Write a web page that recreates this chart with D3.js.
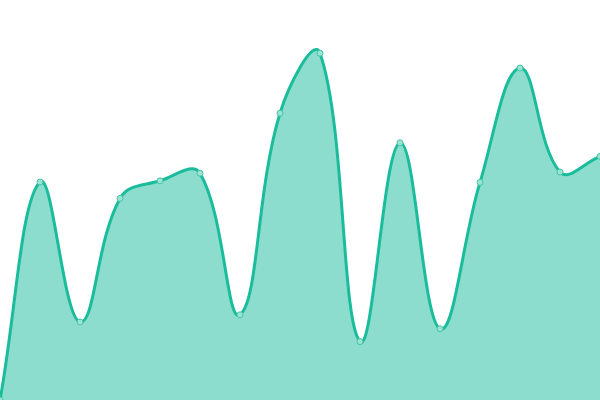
<!DOCTYPE html>
<html>
<head>
<meta charset="utf-8">
<script src="https://cdn.jsdelivr.net/npm/d3@7"></script>
<style>
  html, body { margin: 0; padding: 0; background: #fff; }
  svg { display: block; }
</style>
</head>
<body>
<div id="chart"></div>
<script>
var width = 600;
var height = 400;

// data (0..100 scale)
var labels = ["1", "2", "3", "4", "5", "6", "7", "8", "9", "10", "11", "12", "13", "14", "15", "16"];
var values = [0, 54.5, 19.5, 50.4, 54.8, 56.7, 21.3, 71.7, 86.7, 14.6, 64.3, 17.8, 54.4, 83, 57, 60.9];

var lineColor = "#1abc9c";
var fillColor = "rgba(26,188,156,0.5)";
var tension = 0.4;

// spline the same way a canvas chart lib does it (distance weighted, capped to area)
function ChartSpline(context) { this._context = context; }
ChartSpline.prototype = {
	areaStart: function() { this._line = 0; },
	areaEnd: function() { this._line = NaN; },
	lineStart: function() { this._pts = []; },
	point: function(x, y) { this._pts.push([+x, +y]); },
	lineEnd: function()
	{
		var p = this._pts, n = p.length, c = this._context;
		if (n)
		{
			if (this._line) c.lineTo(p[0][0], p[0][1]);
			else c.moveTo(p[0][0], p[0][1]);
		}
		var cpPrev = [], cpNext = [];
		for (var i = 0; i < n; i++)
		{
			var prev = p[Math.max(i - 1, 0)], cur = p[i], next = p[Math.min(i + 1, n - 1)];
			var d01 = Math.hypot(cur[0] - prev[0], cur[1] - prev[1]);
			var d12 = Math.hypot(next[0] - cur[0], next[1] - cur[1]);
			var s01 = d01 / (d01 + d12), s12 = d12 / (d01 + d12);
			if (isNaN(s01)) s01 = 0;
			if (isNaN(s12)) s12 = 0;
			var fa = tension * s01, fb = tension * s12;
			cpPrev[i] = [clampX(cur[0] - fa * (next[0] - prev[0])), clampY(cur[1] - fa * (next[1] - prev[1]))];
			cpNext[i] = [clampX(cur[0] + fb * (next[0] - prev[0])), clampY(cur[1] + fb * (next[1] - prev[1]))];
		}
		for (var j = 1; j < n; j++)
		{
			c.bezierCurveTo(cpNext[j - 1][0], cpNext[j - 1][1], cpPrev[j][0], cpPrev[j][1], p[j][0], p[j][1]);
		}
		if (this._line || (this._line !== 0 && n === 1)) c.closePath();
		this._line = 1 - this._line;
	}
};
function clampX(v) { return Math.max(0, Math.min(width, v)); }
function clampY(v) { return Math.max(0, Math.min(height, v)); }
function chartSpline(context) { return new ChartSpline(context); }

var x = d3.scalePoint().domain(labels).range([0, width]);
var y = d3.scaleLinear().domain([0, 100]).range([height, 0]);

var svg = d3.select("#chart").append("svg")
	.attr("width", width)
	.attr("height", height);

var area = d3.area()
	.x(function(d, i) { return x(labels[i]); })
	.y0(height)
	.y1(function(d) { return y(d); })
	.curve(chartSpline);

var line = d3.line()
	.x(function(d, i) { return x(labels[i]); })
	.y(function(d) { return y(d); })
	.curve(chartSpline);

svg.append("path")
	.datum(values)
	.attr("d", area)
	.attr("fill", fillColor)
	.attr("stroke", "none");

svg.append("path")
	.datum(values)
	.attr("d", line)
	.attr("fill", "none")
	.attr("stroke", lineColor)
	.attr("stroke-width", 3)
	.attr("stroke-linejoin", "round");

svg.selectAll("circle.pt")
	.data(values)
	.enter().append("circle")
	.attr("class", "pt")
	.attr("cx", function(d, i) { return x(labels[i]); })
	.attr("cy", function(d) { return y(d); })
	.attr("r", 3)
	.attr("fill", "#9ce3d4")
	.attr("stroke", "#45c5a8")
	.attr("stroke-width", 1);
</script>
</body>
</html>
